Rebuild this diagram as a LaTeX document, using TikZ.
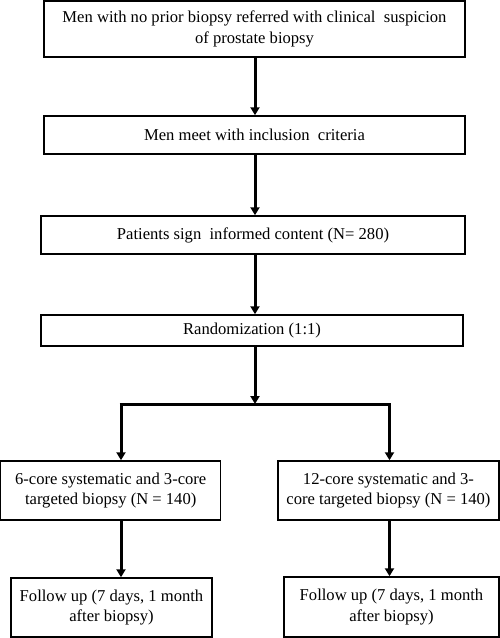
\documentclass[tikz,border=0pt]{standalone}
\usepackage{fontspec}
\setmainfont{Liberation Serif}
\usetikzlibrary{arrows.meta}
\begin{document}
\begin{tikzpicture}[x=1pt,y=-1pt,
  box/.style={draw, line width=1.5pt, inner sep=2pt, align=center, font=\fontsize{16.6}{20.5}\selectfont},
  arr/.style={line width=3pt, -{Triangle[length=8pt,width=9pt]}},
  ln/.style={line width=3pt}]
\useasboundingbox (0,0) rectangle (500,638);
\node[box, minimum width=421pt, minimum height=56pt] (b1) at (254.5,29) {Men with no prior biopsy referred with clinical\ \ suspicion\\of prostate biopsy};
\node[box, minimum width=421pt, minimum height=38pt] (b2) at (254.5,135) {Men meet with inclusion\ \ criteria};
\node[box, minimum width=424pt, minimum height=38pt] (b3) at (253,235) {Patients sign\ \ informed content (N= 280)};
\node[box, minimum width=422pt, minimum height=31pt] (b4) at (252,330.5) {Randomization (1:1)};
\node[box, minimum width=220pt, minimum height=59pt] (b5) at (110.7,490.5) {6-core systematic and 3-core\\targeted biopsy (N = 140)};
\node[box, minimum width=221pt, minimum height=59pt] (b6) at (388.5,490.5) {12-core systematic and 3-\\core targeted biopsy (N = 140)};
\node[box, minimum width=201pt, minimum height=59pt] (b7) at (111.5,607.5) {Follow up (7 days, 1 month\\after biopsy)};
\node[box, minimum width=215pt, minimum height=60pt] (b8) at (391.5,607) {Follow up (7 days, 1 month\\after biopsy)};
\coordinate (M) at (255,404);
\coordinate (L) at (121,404);
\coordinate (R) at (389.5,404);
\draw[arr] (b1.south -| M) -- (b2.north -| M);
\draw[arr] (b2.south -| M) -- (b3.north -| M);
\draw[arr] (b3.south -| M) -- (b4.north -| M);
\draw[arr] (b4.south -| M) -- (M);
\draw[ln] ([xshift=-1.5pt]L) -- ([xshift=1.5pt]R);
\draw[arr] (L) -- (L |- b5.north);
\draw[arr] (R) -- (R |- b6.north);
\draw[arr] (L |- b5.south) -- (L |- b7.north);
\draw[arr] (R |- b6.south) -- (R |- b8.north);
\end{tikzpicture}
\end{document}
